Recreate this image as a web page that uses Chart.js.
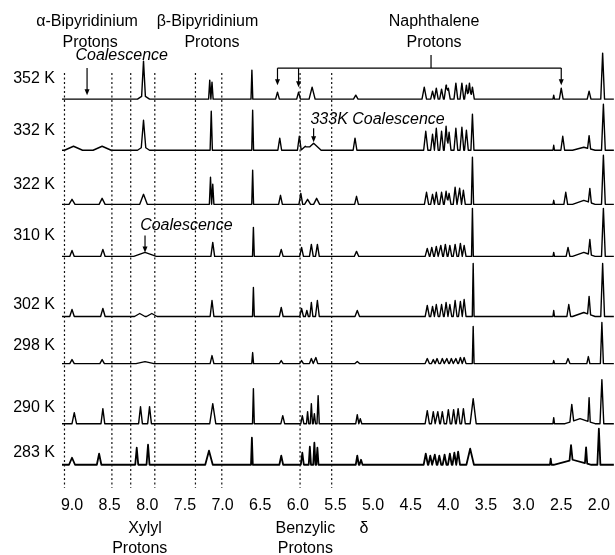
<!DOCTYPE html>
<html>
<head>
<meta charset="utf-8">
<title>Variable temperature 1H NMR</title>
<script src="https://cdn.jsdelivr.net/npm/chart.js@4.4.0/dist/chart.umd.min.js"></script>
<style>
  html, body { margin: 0; padding: 0; background: #fff; }
  #wrap { width: 615px; height: 555px; position: relative; }
</style>
</head>
<body>
<div id="wrap"><canvas id="nmr"></canvas></div>
<script>
(function () {
  'use strict';

  // Temperatures, top trace first
  var temps = ['352 K', '332 K', '322 K', '310 K', '302 K', '298 K', '290 K', '283 K'];

  // Peaks: [shift (ppm), height, half width (ppm)]
  var p352 = [
    [8.05, 34, 0.025], [8.05, 4, 0.08], [7.17, 19, 0.015], [7.14, 17, 0.015],
    [6.61, 29, 0.012], [6.27, 7, 0.025], [5.99, 7, 0.025], [5.81, 12, 0.04], [5.23, 4, 0.03],
    [4.32, 12, 0.03], [4.21, 8, 0.025], [4.16, 11, 0.025], [4.09, 10, 0.025], [4.03, 14, 0.025],
    [4.00, 11, 0.025], [3.90, 16, 0.025], [3.82, 16, 0.025], [3.76, 14, 0.025], [3.72, 16, 0.025],
    [3.68, 12, 0.025], [2.60, 4, 0.01], [2.50, 11, 0.025], [2.13, 8, 0.025], [1.95, 46, 0.025]
  ];
  var p332 = [
    [8.98, 4, 0.12], [8.60, 4, 0.12], [8.05, 26, 0.03], [8.05, 4, 0.08], [7.15, 39, 0.015],
    [6.60, 40, 0.012], [6.24, 12, 0.025], [5.98, 14, 0.025], [5.90, 4, 0.06], [5.79, 7, 0.1],
    [5.24, 12, 0.025], [4.30, 19, 0.028], [4.21, 16, 0.025], [4.16, 22, 0.025], [4.09, 19, 0.025],
    [4.03, 24, 0.025], [3.99, 18, 0.025], [3.90, 22, 0.025], [3.82, 23, 0.025], [3.76, 20, 0.025],
    [3.68, 36, 0.02], [2.60, 5, 0.01], [2.48, 14, 0.025], [2.20, 3, 0.15], [2.13, 13, 0.02],
    [1.94, 46, 0.025]
  ];
  var p322 = [
    [9.00, 5, 0.04], [8.60, 6, 0.04], [8.05, 10, 0.05], [7.16, 27, 0.015], [7.13, 20, 0.015],
    [6.60, 34, 0.012], [6.23, 9, 0.025], [5.96, 11, 0.025], [5.87, 5, 0.04], [5.75, 6, 0.04],
    [5.22, 8, 0.025], [4.29, 12, 0.028], [4.21, 10, 0.025], [4.16, 12, 0.025], [4.09, 12, 0.025],
    [4.03, 13, 0.025], [3.99, 11, 0.025], [3.91, 17, 0.025], [3.85, 16, 0.025], [3.80, 14, 0.025],
    [3.68, 47, 0.015], [2.60, 4, 0.01], [2.44, 12, 0.025], [2.20, 4, 0.15], [2.12, 14, 0.02],
    [1.94, 49, 0.025]
  ];
  var p310 = [
    [9.00, 6, 0.03], [8.59, 7, 0.03], [8.03, 4, 0.15], [7.13, 14, 0.025], [6.59, 29, 0.012],
    [6.22, 7, 0.025], [5.95, 9, 0.025], [5.82, 12, 0.025], [5.74, 12, 0.025], [5.22, 5, 0.03],
    [4.28, 8, 0.028], [4.22, 9, 0.025], [4.16, 10, 0.025], [4.10, 11, 0.025], [4.04, 12, 0.025],
    [3.98, 11, 0.025], [3.91, 12, 0.025], [3.84, 13, 0.025], [3.79, 11, 0.025], [3.68, 48, 0.012],
    [2.60, 4, 0.01], [2.41, 9, 0.025], [2.20, 4, 0.15], [2.12, 15, 0.02], [1.94, 48, 0.025]
  ];
  var p302 = [
    [9.00, 7, 0.03], [8.59, 8, 0.03], [8.10, 3, 0.07], [7.94, 3, 0.07], [7.14, 16, 0.025],
    [6.59, 29, 0.012], [6.22, 9, 0.025], [5.95, 8, 0.025], [5.88, 6, 0.02], [5.82, 14, 0.02],
    [5.74, 16, 0.025], [5.21, 6, 0.03], [4.28, 11, 0.028], [4.21, 10, 0.025], [4.16, 12, 0.025],
    [4.09, 12, 0.025], [4.03, 14, 0.025], [3.98, 12, 0.025], [3.91, 16, 0.025], [3.84, 15, 0.025],
    [3.79, 17, 0.025], [3.67, 53, 0.012], [2.60, 6, 0.01], [2.40, 12, 0.025], [2.20, 4, 0.15],
    [2.13, 18, 0.02], [1.95, 53, 0.025]
  ];
  var p298 = [
    [9.00, 4, 0.03], [8.60, 4, 0.03], [8.03, 2, 0.12], [7.14, 8, 0.025], [6.60, 11, 0.012],
    [6.22, 3, 0.025], [5.95, 3, 0.025], [5.82, 5, 0.025], [5.76, 6, 0.025], [5.21, 2, 0.03],
    [4.28, 5, 0.028], [4.20, 4, 0.025], [4.15, 5, 0.025], [4.08, 5, 0.025], [4.02, 5, 0.025],
    [3.96, 5, 0.025], [3.90, 5, 0.025], [3.84, 6, 0.025], [3.79, 6, 0.025], [3.67, 37, 0.012],
    [2.60, 3, 0.01], [2.41, 5, 0.025], [2.14, 7, 0.02], [1.96, 41, 0.02]
  ];
  var p290 = [
    [8.97, 11, 0.03], [8.59, 15, 0.025], [8.09, 17, 0.025], [7.97, 17, 0.025], [7.13, 20, 0.04],
    [6.59, 35, 0.012], [6.20, 8, 0.025], [5.94, 8, 0.02], [5.87, 12, 0.015], [5.82, 20, 0.015],
    [5.78, 10, 0.015], [5.73, 28, 0.015], [5.21, 9, 0.02], [5.17, 5, 0.02],
    [4.28, 13, 0.028], [4.20, 12, 0.025], [4.14, 12, 0.025], [4.08, 12, 0.025], [4.00, 14, 0.025],
    [3.93, 14, 0.025], [3.87, 15, 0.025], [3.80, 15, 0.025], [3.67, 25, 0.04],
    [2.60, 6, 0.01], [2.36, 17, 0.025], [2.25, 5, 0.2], [2.13, 24, 0.015], [1.96, 44, 0.025]
  ];
  var p283 = [
    [9.00, 7, 0.04], [8.64, 11, 0.03], [8.14, 17, 0.02], [7.99, 20, 0.02], [7.18, 14, 0.05],
    [6.61, 27, 0.012], [6.22, 9, 0.025], [5.94, 12, 0.02], [5.84, 18, 0.015], [5.78, 22, 0.015],
    [5.74, 17, 0.015], [5.21, 9, 0.02], [5.16, 5, 0.02],
    [4.30, 11, 0.028], [4.24, 9, 0.025], [4.18, 10, 0.025], [4.12, 9, 0.025], [4.05, 10, 0.025],
    [3.98, 11, 0.025], [3.92, 12, 0.025], [3.87, 13, 0.025], [3.71, 16, 0.05],
    [2.64, 6, 0.01], [2.37, 15, 0.02], [2.35, 5, 0.25], [2.17, 16, 0.015], [2.00, 36, 0.02]
  ];
  var spectra = [p352, p332, p322, p310, p302, p298, p290, p283];

  // Chemical shift axis labels
  var tickValues = [9.0, 8.5, 8.0, 7.5, 7.0, 6.5, 6.0, 5.5, 5.0, 4.5, 4.0, 3.5, 3.0, 2.5, 2.0];

  // Dotted guide lines (ppm)
  var guideShifts = [9.1, 8.47, 8.22, 7.9, 7.36, 7.01, 5.97, 5.55];

  // Layout: axis span, vertical offset of each trace, lift of its label
  var X_MIN = 1.8, X_MAX = 9.133, Y_MAX = 490;
  var baseY = [391, 340, 286, 234, 174, 127, 67, 26];
  var labelLift = [21, 20, 20, 21, 12, 18, 16, 12];
  var FONT = '"Liberation Sans", Arial, sans-serif';
  var INK = '#000';

  // Piecewise-linear trace: each peak a triangle, summed at the break points
  function trace(peaks, base) {
    var xs = [X_MIN, X_MAX];
    peaks.forEach(function (p) { xs.push(p[0] - p[2], p[0], p[0] + p[2]); });
    xs.sort(function (a, b) { return b - a; });
    return xs.map(function (x) {
      var y = base;
      peaks.forEach(function (p) {
        var d = Math.abs(x - p[0]) / p[2];
        if (d < 1) y += p[1] * (1 - d);
      });
      return { x: x, y: y };
    });
  }

  var datasets = [];
  guideShifts.forEach(function (s) {
    datasets.push({
      data: [{ x: s, y: 417 }, { x: s, y: 3 }],
      borderColor: '#111', borderWidth: 1.2, borderDash: [2, 2.5]
    });
  });
  spectra.forEach(function (peaks, i) {
    datasets.push({
      label: temps[i],
      data: trace(peaks, baseY[i]),
      borderColor: INK,
      borderWidth: i === 7 ? 1.8 : 1.4,
      borderJoinStyle: 'round'
    });
  });

  // Labels, arrows and the naphthalene bracket
  var notes = {
    id: 'notes',
    afterDraw: function (chart) {
      var c = chart.ctx, xs = chart.scales.x, ys = chart.scales.y;
      function X(d) { return xs.getPixelForValue(d); }
      function Y(v) { return ys.getPixelForValue(v); }
      function arrow(d, v0, v1) {
        var x = X(d), y0 = Y(v0), y1 = Y(v1);
        c.beginPath(); c.moveTo(x, y0); c.lineTo(x, y1 - 5); c.stroke();
        c.beginPath(); c.moveTo(x - 2.5, y1 - 6); c.lineTo(x + 2.5, y1 - 6); c.lineTo(x, y1);
        c.closePath(); c.fill();
      }
      c.save();
      c.fillStyle = INK; c.strokeStyle = INK; c.lineWidth = 1.2;
      c.textAlign = 'center'; c.textBaseline = 'middle';
      c.font = '16px ' + FONT;
      c.fillText('\u03b1-Bipyridinium', X(8.80), Y(468));
      c.fillText('Protons', X(8.76), Y(447));
      c.fillText('\u03b2-Bipyridinium', X(7.20), Y(468));
      c.fillText('Protons', X(7.14), Y(447));
      c.fillText('Naphthalene', X(4.19), Y(468));
      c.fillText('Protons', X(4.19), Y(447));
      c.fillText('Xylyl', X(8.03), Y(-38));
      c.fillText('Protons', X(8.10), Y(-58));
      c.fillText('Benzylic', X(5.90), Y(-38));
      c.fillText('Protons', X(5.90), Y(-58));
      c.fillText('\u03b4', X(5.12), Y(-38));

      c.font = 'italic 16px ' + FONT;
      c.fillText('Coalescence', X(8.34), Y(435));
      c.fillText('333K Coalescence', X(4.94), Y(371));
      c.fillText('Coalescence', X(7.48), Y(265));

      c.font = '16px ' + FONT;
      c.textAlign = 'right';
      temps.forEach(function (t, i) { c.fillText(t, 55, Y(baseY[i] + labelLift[i])); });

      // bracket over the naphthalene signals
      c.beginPath();
      c.moveTo(X(6.27), Y(422)); c.lineTo(X(2.50), Y(422));
      c.moveTo(X(4.23), Y(435)); c.lineTo(X(4.23), Y(422));
      c.stroke();
      arrow(6.27, 422, 405);
      arrow(5.99, 422, 403);
      arrow(2.50, 422, 405);

      arrow(8.80, 422, 395);
      arrow(5.79, 362, 348);
      arrow(8.03, 255, 238);
      c.restore();
    }
  };

  new Chart(document.getElementById('nmr'), {
    type: 'line',
    data: { datasets: datasets },
    options: {
      responsive: true,
      maintainAspectRatio: false,
      animation: false,
      layout: { padding: { left: 62, right: 0, top: 0, bottom: 35 } },
      plugins: { legend: { display: false }, tooltip: { enabled: false } },
      elements: { point: { radius: 0 }, line: { tension: 0 } },
      scales: {
        x: {
          type: 'linear', reverse: true, min: X_MIN, max: X_MAX,
          grid: { display: false, drawTicks: false },
          border: { display: false },
          afterBuildTicks: function (s) {
            s.ticks = tickValues.map(function (v) { return { value: v }; });
          },
          ticks: {
            padding: 5, color: INK, autoSkip: false, maxRotation: 0,
            font: { family: FONT, size: 16 },
            callback: function (v) { return Number(v).toFixed(1); }
          }
        },
        y: { display: false, min: 0, max: Y_MAX }
      }
    },
    plugins: [notes]
  });
})();
</script>
</body>
</html>
